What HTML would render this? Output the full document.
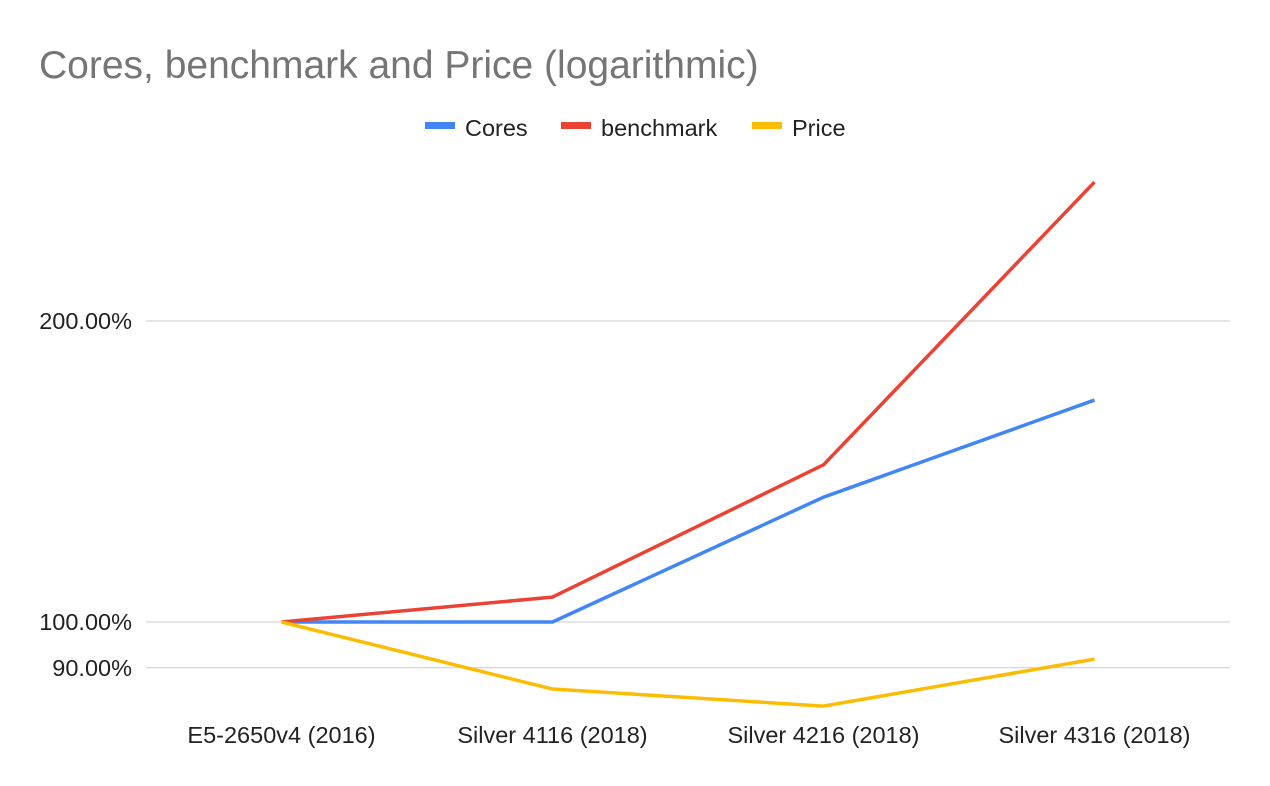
<!DOCTYPE html>
<html><head><meta charset="utf-8">
<style>
body{margin:0;background:#fff;font-family:"Liberation Sans",Arial,sans-serif;}
svg{display:block}
</style></head>
<body>
<svg id="chart" width="1270" height="786">
<rect width="1270" height="786" fill="#fff"/>
<text x="39" y="78" font-size="39" fill="#757575">Cores, benchmark and Price (logarithmic)</text>
<g id="legend"></g>
<g id="grid"></g>
<g id="yticks"></g>
<g id="xticks"></g>
<g id="series"></g>
</svg>
<script>
const categories=["E5-2650v4 (2016)","Silver 4116 (2018)","Silver 4216 (2018)","Silver 4316 (2018)"];
const cores=[100,100,133.3,166.7];
const benchmark=[100,105.9,143.6,275.4];
const price=[100,85.7,82.4,91.8];
const yTicks=[90,100,200];
const yTickLabels=["90.00%","100.00%","200.00%"];
const seriesNames=["Cores","benchmark","Price"];
const seriesColors=["#4285f4","#ea4335","#fbbc04"];

const NS="http://www.w3.org/2000/svg";
function el(t,a,p){const e=document.createElementNS(NS,t);for(const k in a)e.setAttribute(k,a[k]);p.appendChild(e);return e;}
const left=146,right=1230,y100=622,pxPerDecade=1000;
function yScale(v){return y100-Math.log10(v/100)*pxPerDecade;}
const step=(right-left)/categories.length;
function xScale(i){return left+step*(i+0.5);}

const grid=document.getElementById('grid'),yt=document.getElementById('yticks');
yTicks.forEach((v,i)=>{
  const l=el('line',{x1:left,x2:right,y1:yScale(v),y2:yScale(v),stroke:'#cccccc','stroke-width':1},grid);
  
  
  const t=el('text',{x:132,y:yScale(v)+8,'text-anchor':'end','font-size':23.5,fill:'#222'},yt);
  t.textContent=yTickLabels[i];
  
  
});
const xt=document.getElementById('xticks');
categories.forEach((c,i)=>{
  const t=el('text',{x:xScale(i),y:743,'text-anchor':'middle','font-size':23.5,fill:'#222'},xt);
  t.textContent=c;
  
  
});
const sg=document.getElementById('series');
[cores,benchmark,price].forEach((arr,s)=>{
  const pts=arr.map((v,i)=>xScale(i)+','+yScale(v)).join(' ');
  const p=el('polyline',{points:pts,fill:'none',stroke:seriesColors[s],'stroke-width':3.5,'stroke-linejoin':'round'},sg);
  
  
});
const lg=document.getElementById('legend');
const lx=[425,561,752];
seriesNames.forEach((n,i)=>{
  const r=el('rect',{x:lx[i],y:122,width:30,height:7,fill:seriesColors[i]},lg);
  
  
  const t=el('text',{x:lx[i]+40,y:136,'font-size':23.5,fill:'#222'},lg);
  t.textContent=n;
  
  
});
</script>
</body></html>
